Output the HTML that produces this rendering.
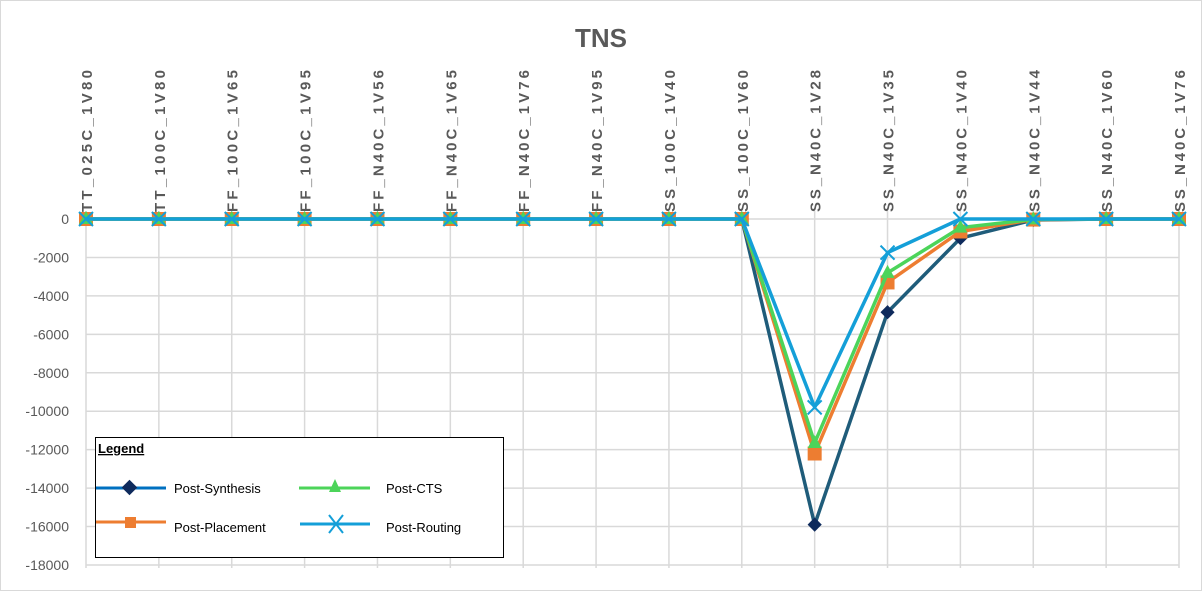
<!DOCTYPE html>
<html><head><meta charset="utf-8"><style>
html,body{margin:0;padding:0;background:#fff}
svg{display:block;font-family:"Liberation Sans",sans-serif}
</style></head><body>
<svg id="chart" width="1202" height="591" viewBox="0 0 1202 591">
<rect x="0.5" y="0.5" width="1201" height="590" fill="#fff" stroke="#d9d9d9"/>
<text x="601" y="47" text-anchor="middle" font-size="26" font-weight="bold" fill="#595959">TNS</text>
<g id="grid"></g><g id="ylabels"></g><g id="xlabels"></g><g id="series"></g>
<g>
<rect x="95.5" y="437.5" width="408" height="120" fill="#fff" stroke="#000" stroke-width="1"/>
<text x="98" y="453" font-size="13" font-weight="bold" text-decoration="underline" fill="#000">Legend</text>
<g>
<line x1="96" y1="488" x2="166" y2="488" stroke="#0070C0" stroke-width="3"/>
<rect x="124" y="482" width="11" height="11" fill="#0E2A5C" transform="rotate(45 129.5 487.5)"/>
<text x="174" y="493" font-size="13" fill="#000">Post-Synthesis</text></g>
<g>
<line x1="96" y1="522" x2="166" y2="522" stroke="#ED7D31" stroke-width="3"/>
<rect x="125" y="517" width="11" height="11" fill="#ED7D31"/>
<text x="174" y="532" font-size="13" fill="#000">Post-Placement</text></g>
<g>
<line x1="299" y1="488" x2="370" y2="488" stroke="#4CD45A" stroke-width="3"/>
<polygon points="335,479 341,492 329,492" fill="#4CD45A"/>
<text x="386" y="493" font-size="13" fill="#000">Post-CTS</text></g>
<g>
<line x1="300" y1="524" x2="370" y2="524" stroke="#149FD8" stroke-width="3"/>
<path d="M329,515 L343,533 M343,515 L329,533" stroke="#149FD8" stroke-width="2"/>
<text x="386" y="532" font-size="13" fill="#000">Post-Routing</text></g>
</g>
</svg>
<script>
const categories=["TT_025C_1V80","TT_100C_1V80","FF_100C_1V65","FF_100C_1V95","FF_N40C_1V56","FF_N40C_1V65","FF_N40C_1V76","FF_N40C_1V95","SS_100C_1V40","SS_100C_1V60","SS_N40C_1V28","SS_N40C_1V35","SS_N40C_1V40","SS_N40C_1V44","SS_N40C_1V60","SS_N40C_1V76"];
const postSynthesis=[0,0,0,0,0,0,0,0,0,0,-15900,-4850,-1000,-50,0,0];
const postPlacement=[0,0,0,0,0,0,0,0,0,0,-12200,-3300,-650,-30,0,0];
const postCTS=[0,0,0,0,0,0,0,0,0,0,-11650,-2800,-450,-20,0,0];
const postRouting=[0,0,0,0,0,0,0,0,0,0,-9800,-1750,0,0,0,0];
const yTicks=[0,-2000,-4000,-6000,-8000,-10000,-12000,-14000,-16000,-18000];
const NS="http://www.w3.org/2000/svg";
const x0=86,x1=1179,yTop=219,yBot=565,yMin=-18000;
function xs(i){return x0+(x1-x0)*i/(categories.length-1);}
function ys(v){return yTop+(yBot-yTop)*(v/yMin);}
function mk(tag,attrs,parent){const e=document.createElementNS(NS,tag);for(const k in attrs)e.setAttribute(k,attrs[k]);parent.appendChild(e);return e;}
const grid=document.getElementById('grid'),yl=document.getElementById('ylabels'),xl=document.getElementById('xlabels'),sg=document.getElementById('series');
yTicks.forEach(t=>{
  const l=mk('line',{x1:x0,x2:x1,y1:ys(t),y2:ys(t),stroke:'#d9d9d9','stroke-width':1.5},grid);
  
  
  const tx=mk('text',{x:69,y:ys(t)+5,'text-anchor':'end','font-size':14,fill:'#595959'},yl);
  tx.textContent=t;
  
  
});
categories.forEach((c,i)=>{
  const l=mk('line',{x1:xs(i),x2:xs(i),y1:yTop-8,y2:yBot+3,stroke:'#d9d9d9','stroke-width':1.5},grid);
  
  
  const tx=mk('text',{x:0,y:0,transform:`translate(${xs(i)+6},212) rotate(-90)`,'font-size':15,'font-weight':'bold',fill:'#595959',textLength:142,lengthAdjust:'spacing'},xl);
  tx.textContent=c;
  
  
});
const series=[
 {name:'post-synthesis',data:postSynthesis,color:'#1F5C7A',mc:'#0E2A5C',m:'diamond'},
 {name:'post-placement',data:postPlacement,color:'#ED7D31',mc:'#ED7D31',m:'square'},
 {name:'post-cts',data:postCTS,color:'#4CD45A',mc:'#4CD45A',m:'triangle'},
 {name:'post-routing',data:postRouting,color:'#149FD8',mc:'#149FD8',m:'x'}];
series.forEach(s=>{
  const g=mk('g',{},sg);
  
  
  const pts=s.data.map((v,i)=>xs(i)+','+ys(v)).join(' ');
  mk('polyline',{points:pts,fill:'none',stroke:s.color,'stroke-width':3.5,'stroke-linejoin':'round'},g);
  s.data.forEach((v,i)=>{
    const x=xs(i),y=ys(v);let e;
    if(s.m==='diamond')e=mk('rect',{x:x-5,y:y-5,width:10,height:10,fill:s.mc,transform:`rotate(45 ${x} ${y})`},g);
    else if(s.m==='square')e=mk('rect',{x:x-7,y:y-7,width:14,height:14,fill:s.mc},g);
    else if(s.m==='triangle')e=mk('polygon',{points:`${x},${y-8} ${x+7},${y+5} ${x-7},${y+5}`,fill:s.mc},g);
    else e=mk('path',{d:`M${x-7},${y-7}L${x+7},${y+7}M${x+7},${y-7}L${x-7},${y+7}`,stroke:s.mc,'stroke-width':2},g);
    
    
  });
});
</script>
</body></html>
